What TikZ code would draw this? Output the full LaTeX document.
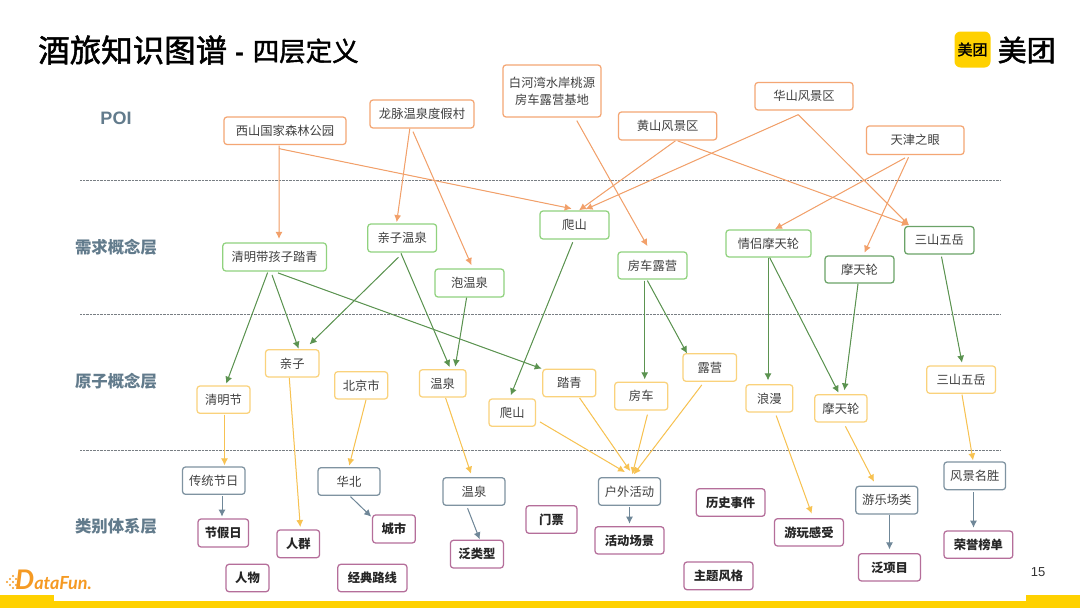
\documentclass[tikz,border=0pt]{standalone}
\usepackage{fontspec}
\usetikzlibrary{arrows.meta}
\setmainfont{Noto Sans CJK SC}
\newfontfamily\latinf{Liberation Sans}
\newfontfamily\funf{Lato}
\newfontfamily\medf[FakeBold=1.6]{Noto Sans CJK SC}
\definecolor{lab}{HTML}{627B8C}
\definecolor{txt}{HTML}{404040}
\definecolor{obox}{HTML}{F4A674}
\definecolor{oline}{HTML}{F2A06A}
\definecolor{gbox}{HTML}{90D27E}
\definecolor{dgbox}{HTML}{6BA368}
\definecolor{gline}{HTML}{5B9350}
\definecolor{ybox}{HTML}{FAD27C}
\definecolor{yline}{HTML}{F7C252}
\definecolor{sbox}{HTML}{7F93A1}
\definecolor{sline}{HTML}{6F8798}
\definecolor{mbox}{HTML}{B56E9A}
\definecolor{mtyellow}{HTML}{FFD100}
\definecolor{dfo}{HTML}{F59A23}
\tikzset{
  x=1pt,y=-1pt,
  box/.style={draw,rounded corners=3pt,line width=1.25pt,fill=white,inner sep=0pt,align=center,text=txt,font=\fontsize{12.3}{17}\selectfont},
  obx/.style={box,draw=obox},
  gbx/.style={box,draw=gbox},
  dgbx/.style={box,draw=dgbox},
  ybx/.style={box,draw=ybox},
  sbx/.style={box,draw=sbox},
  mbx/.style={box,draw=mbox,text=black!85,font=\fontsize{12.3}{17}\selectfont\bfseries},
  conn/.style={line width=1pt,-{Latex[length=7pt,width=7pt]}},
  ol/.style={conn,draw=oline,fill=oline},
  gl/.style={conn,draw=gline,fill=gline},
  yl/.style={conn,draw=yline,fill=yline},
  sl/.style={conn,draw=sline,fill=sline},
  layerlab/.style={text=lab,font=\fontsize{16.4}{18}\selectfont\bfseries},
  sep/.style={draw=gray!75!lab,line width=.7pt,densely dotted,dash pattern=on .8pt off .6pt},
}
% \bx{style}{name}{x1}{y1}{x2}{y2}{text}
\newcommand{\bx}[7]{%
  \pgfmathsetmacro{\bxw}{#5-#3}\pgfmathsetmacro{\bxh}{#6-#4}%
  \pgfmathsetmacro{\bxcx}{(#3+#5)/2}\pgfmathsetmacro{\bxcy}{(#4+#6)/2}%
  \node[#1,minimum width=\bxw pt,minimum height=\bxh pt] (#2) at (\bxcx,\bxcy) {#7};}
% \cn{style}{from}{dx,dy}{to}{dx,dy}
\newcommand{\cn}[5]{\draw[#1] ([shift={(#3)}]#2.south) -- ([shift={(#5)}]#4.north);}
\begin{document}
\begin{tikzpicture}
\useasboundingbox (0,0) rectangle (1080,608);
\fill[white] (0,0) rectangle (1080,608);
% bottom bar
\fill[mtyellow] (0,601) rectangle (1080,608);
\fill[mtyellow] (0,595) rectangle (54,601);
\fill[mtyellow] (1026,595) rectangle (1080,601);
% title
\node[anchor=west,inner sep=0pt,font=\medf\fontsize{31.5}{34}\selectfont] (title) at (38,50) {酒旅知识图谱};
\node[anchor=west,inner sep=0pt,font=\latinf\fontsize{27}{30}\selectfont\bfseries] (dash) at (235,57) {-};
\node[anchor=west,inner sep=0pt,font=\medf\fontsize{26.5}{30}\selectfont] (title2) at (252.5,51) {四层定义};
% logo
\node[fill=mtyellow,rounded corners=6pt,minimum width=36pt,minimum height=36pt,inner sep=0pt,font=\medf\fontsize{15}{16}\selectfont] (logo) at (972.5,49.5) {美团};
\node[anchor=west,inner sep=0pt,font=\medf\fontsize{29}{30}\selectfont] (logot) at (997.5,50) {美团};
% datafun
\node[anchor=base west,inner sep=0pt,text=dfo,font=\funf\bfseries\itshape] (dfun) at (15,589.5) {\fontsize{27}{28}\selectfont D\fontsize{18}{18}\selectfont ataFun.};
\foreach \px/\py in {7/582, 10/579, 10/585, 13/576, 13/582, 13/588, 16/579, 16/585}{\fill[dfo] (\px,\py) circle (1.2pt);}
% page number
\node[inner sep=0pt,text=black!80,font=\latinf\fontsize{13}{14}\selectfont] (pg) at (1038,572.5) {15};
% separators
\draw[sep] (80,180) -- (1001,180);
\draw[sep] (80,314) -- (1001,314);
\draw[sep] (80,450) -- (1001,450);
% layer labels
\node[layerlab,font=\latinf\fontsize{18}{20}\selectfont\bfseries] (l0) at (116,118) {POI};
\node[layerlab] (l1) at (116,247) {需求概念层};
\node[layerlab] (l2) at (116,381.5) {原子概念层};
\node[layerlab] (l3) at (116,526.5) {类别体系层};
% POI
\bx{obx}{xishan}{224}{117}{346}{144.5}{西山国家森林公园}
\bx{obx}{longmai}{370}{100}{474}{128}{龙脉温泉度假村}
\bx{obx}{baihe}{503}{65}{601}{117}{白河湾水岸桃源\\房车露营基地}
\bx{obx}{huangshan}{618.5}{112}{716.7}{140}{黄山风景区}
\bx{obx}{huashan}{755}{82.5}{853}{110}{华山风景区}
\bx{obx}{tianjin}{866.4}{126}{964}{154.5}{天津之眼}
% demand
\bx{gbx}{xqing}{222.8}{243}{326.4}{271}{清明带孩子踏青}
\bx{gbx}{xqinzi}{367.8}{224}{436.6}{252}{亲子温泉}
\bx{gbx}{xpao}{435}{269}{504}{297}{泡温泉}
\bx{gbx}{xpashan}{540}{211}{609}{239}{爬山}
\bx{gbx}{xfangche}{618}{252}{687}{279}{房车露营}
\bx{gbx}{xlvmo}{726}{230}{811}{257}{情侣摩天轮}
\bx{dgbx}{xmo}{825}{256}{894}{283}{摩天轮}
\bx{dgbx}{xsan}{904.7}{226.5}{974}{254}{三山五岳}
% atoms
\bx{ybx}{aqin}{265.5}{349.7}{319}{377}{亲子}
\bx{ybx}{abei}{334.7}{371.7}{387.7}{399}{北京市}
\bx{ybx}{aqm}{197}{386}{250}{413.3}{清明节}
\bx{ybx}{awen}{419.4}{369.7}{466}{397}{温泉}
\bx{ybx}{apa}{489}{399}{535.5}{426.3}{爬山}
\bx{ybx}{ata}{542.8}{369.3}{595.8}{396.7}{踏青}
\bx{ybx}{afang}{614.7}{382.3}{667.8}{410}{房车}
\bx{ybx}{alu}{683}{353.7}{736.6}{381.3}{露营}
\bx{ybx}{alang}{746}{384.7}{792.8}{412}{浪漫}
\bx{ybx}{amo}{814.8}{394.7}{867}{422}{摩天轮}
\bx{ybx}{asan}{926.7}{366}{995.6}{393.3}{三山五岳}
% categories
\bx{sbx}{cct}{182.5}{467}{245}{494.3}{传统节日}
\bx{sbx}{chb}{318}{467.7}{380}{495.3}{华北}
\bx{sbx}{cwen}{443}{477.7}{505}{505.3}{温泉}
\bx{sbx}{chw}{598.5}{477.7}{660.5}{505.3}{户外活动}
\bx{sbx}{cyl}{855.8}{486.3}{917.8}{514}{游乐场类}
\bx{sbx}{cfj}{944}{462}{1005.6}{489.7}{风景名胜}
% leaves
\bx{mbx}{ljr}{198}{519}{248.6}{547}{节假日}
\bx{mbx}{lrq}{277}{530}{319.6}{557.7}{人群}
\bx{mbx}{lcs}{372.6}{515}{415.3}{543}{城市}
\bx{mbx}{lfl}{450.4}{540.3}{503.4}{568}{泛类型}
\bx{mbx}{lrw}{226}{564.3}{269}{591.7}{人物}
\bx{mbx}{ljd}{337.8}{564.3}{407}{591.7}{经典路线}
\bx{mbx}{lmp}{526}{505.7}{577}{533.3}{门票}
\bx{mbx}{lls}{696.3}{488.7}{765}{516.3}{历史事件}
\bx{mbx}{lhd}{595}{526.7}{664}{554}{活动场景}
\bx{mbx}{lyw}{774.5}{518.7}{843.4}{546}{游玩感受}
\bx{mbx}{lxm}{858.5}{553.7}{920.5}{581}{泛项目}
\bx{mbx}{lry}{944}{531}{1012.8}{558.3}{荣誉榜单}
\bx{mbx}{lzt}{684}{562}{753}{589.7}{主题风格}
% orange
\cn{ol}{xishan}{-6,.5}{xqing}{4.4,-3.5}
\cn{ol}{xishan}{-6,3.5}{xpashan}{-2.8,-1.7}
\cn{ol}{longmai}{-12.2,0}{xqinzi}{-5.5,-1.3}
\cn{ol}{longmai}{-9,3}{xpao}{1.9,-3.3}
\cn{ol}{baihe}{24.8,3}{xfangche}{-5.1,-5.3}
\cn{ol}{huangshan}{7.7,.3}{xpashan}{4.5,0}
\cn{ol}{huangshan}{10.1,.3}{xsan}{-30.35,-.8}
\cn{ol}{huashan}{-5.7,4}{xpashan}{11,-1}
\cn{ol}{huashan}{-5.7,4}{xsan}{-30.35,-.8}
\cn{ol}{tianjin}{-10.2,2.8}{xlvmo}{6.5,-.3}
\cn{ol}{tianjin}{-6.7,2.2}{xmo}{4.9,-2.7}
% green
\cn{gl}{xqing}{-7,1}{aqm}{2.7,-1.7}
\cn{gl}{xqing}{-2.6,3.3}{aqin}{6.35,-.4}
\cn{gl}{xqing}{3.4,1.3}{ata}{-27.6,0}
\cn{gl}{xqinzi}{-3.8,4.7}{aqin}{17.35,-4.7}
\cn{gl}{xqinzi}{-1.2,.7}{awen}{7,-2}
\cn{gl}{xpao}{-2.9,0}{awen}{12.5,-2.4}
\cn{gl}{xpashan}{-1.8,2.7}{apa}{-1.55,-3}
\cn{gl}{xfangche}{-7.8,1}{afang}{3.45,-2.3}
\cn{gl}{xfangche}{-5.1,1}{alu}{-22.8,.3}
\cn{gl}{xlvmo}{-.5,0}{alang}{-1.4,-3.7}
\cn{gl}{xlvmo}{1.2,0}{amo}{-2.3,-1.4}
\cn{gl}{xmo}{-1.5,.3}{amo}{3.5,-3.7}
\cn{gl}{xsan}{2.15,2}{asan}{.85,-2.7}
% yellow
\cn{yl}{aqin}{-2.95,.3}{lrq}{2,-2.3}
\cn{yl}{aqm}{1,.7}{cct}{10.75,-1}
\cn{yl}{abei}{4.8,.3}{chb}{.2,-1.4}
\cn{yl}{awen}{2.9,.3}{cwen}{-3,-3.4}
\cn{yl}{apa}{27.75,-5}{chw}{-4.5,-5}
\cn{yl}{ata}{10.3,.6}{chw}{.7,-6}
\cn{yl}{afang}{6.15,4}{chw}{2.8,-2.7}
\cn{yl}{alu}{-8,3}{chw}{4.2,-2.7}
\cn{yl}{alang}{6.8,3}{lyw}{2.75,-4.4}
\cn{yl}{amo}{4.5,3.7}{cyl}{-12.8,-4}
\cn{yl}{asan}{.85,.7}{cfj}{-1.8,-1}
% slate
\cn{sl}{cct}{8.25,1.4}{ljr}{-1.3,-1.7}
\cn{sl}{chb}{1.5,.7}{lcs}{-22.75,2.3}
\cn{sl}{cwen}{-6.4,2.4}{lfl}{2.8,-.3}
\cn{sl}{chw}{0,1.4}{lhd}{0,-2.4}
\cn{sl}{cyl}{2.7,.3}{lxm}{0,-3.7}
\cn{sl}{cfj}{-1.3,2}{lry}{-4.9,-2.7}
\end{tikzpicture}
\end{document}
